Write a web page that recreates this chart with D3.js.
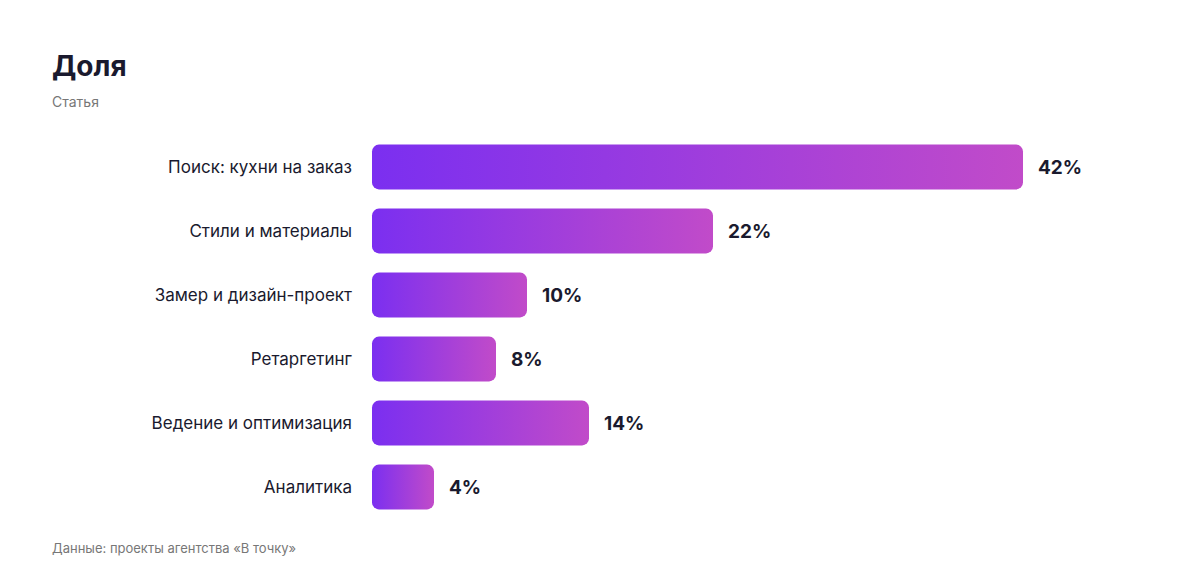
<!DOCTYPE html>
<html>
<head>
<meta charset="utf-8">
<script src="https://cdn.jsdelivr.net/npm/d3@7"></script>
<style>
  body { margin: 0; background: #fff; font-family: "Inter", "Liberation Sans", sans-serif; }
</style>
</head>
<body>
<script>
const categories = ["Поиск: кухни на заказ", "Стили и материалы", "Замер и дизайн-проект", "Ретаргетинг", "Ведение и оптимизация", "Аналитика"];
const values = [42, 22, 10, 8, 14, 4];

const svg = d3.select("body").append("svg")
  .attr("width", 1200)
  .attr("height", 584);

// gradient
const grad = svg.append("defs").append("linearGradient")
  .attr("id", "barGrad")
  .attr("x1", "0%").attr("x2", "100%").attr("y1", "0%").attr("y2", "0%");
grad.append("stop").attr("offset", "0%").attr("stop-color", "#7b2ff0");
grad.append("stop").attr("offset", "100%").attr("stop-color", "#c14bc9");

// titles
svg.append("text").attr("x", 52).attr("y", 76)
  .attr("font-size", 28).attr("font-weight", 700).attr("fill", "#1a1a2e")
  .text("Доля");
svg.append("text").attr("x", 52).attr("y", 107)
  .attr("font-size", 14).attr("fill", "#777")
  .text("Статья");

const left = 372;
const x = d3.scaleLinear().domain([0, 42]).range([0, 651]);
const y = d3.scaleBand().domain(categories).range([135, 519]).paddingInner(0.3).paddingOuter(0.15);

const g = svg.append("g");

g.selectAll("rect").data(values).join("rect")
  .attr("x", left)
  .attr("y", (d, i) => y(categories[i]))
  .attr("width", d => x(d))
  .attr("height", y.bandwidth())
  .attr("rx", 7)
  .attr("fill", "url(#barGrad)");

g.selectAll(".cat").data(categories).join("text")
  .attr("class", "cat")
  .attr("x", 352)
  .attr("y", d => y(d) + y.bandwidth() / 2)
  .attr("dy", "0.35em")
  .attr("text-anchor", "end")
  .attr("font-size", 17)
  .attr("fill", "#1a1a2e")
  .text(d => d);

g.selectAll(".val").data(values).join("text")
  .attr("class", "val")
  .attr("x", d => left + x(d) + 15)
  .attr("y", (d, i) => y(categories[i]) + y.bandwidth() / 2)
  .attr("dy", "0.35em")
  .attr("font-size", 19)
  .attr("font-weight", 700)
  .attr("fill", "#1a1a2e")
  .text(d => d + "%");

svg.append("text").attr("x", 52).attr("y", 553)
  .attr("font-size", 13).attr("fill", "#777")
  .text("Данные: проекты агентства «В точку»");
</script>
</body>
</html>
